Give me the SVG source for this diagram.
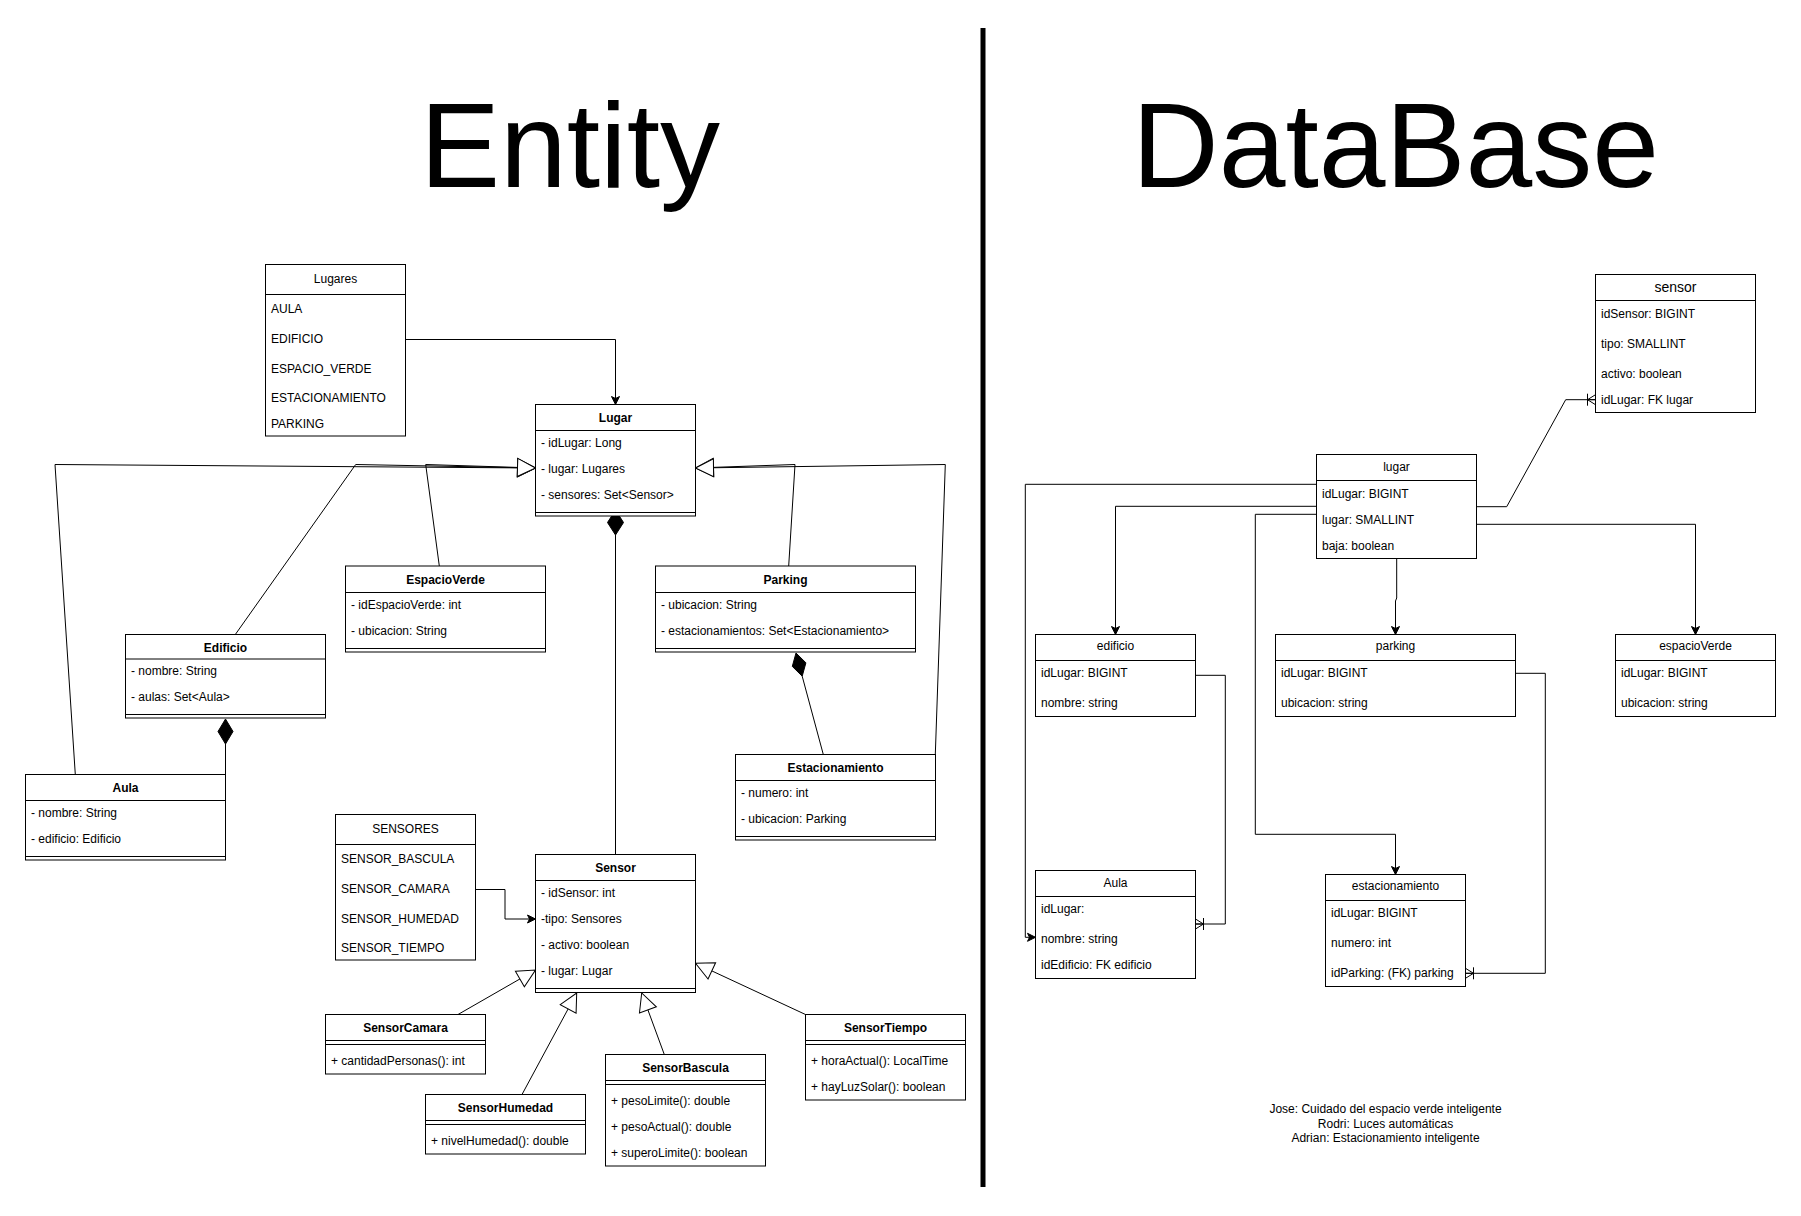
<svg xmlns="http://www.w3.org/2000/svg" width="1801" height="1216" viewBox="0 0 1801 1216">
<style>
.box{fill:#fff;stroke:#000;stroke-width:1}
.sep{stroke:#000;stroke-width:1;fill:none}
.ln{fill:none;stroke:#000;stroke-width:1}
.t{font-family:"Liberation Sans",Arial,Helvetica,sans-serif;font-size:12px;fill:#000}
.h{font-weight:bold;text-anchor:middle}
.hn{text-anchor:middle}
.title{font-family:"Liberation Sans",Arial,Helvetica,sans-serif;font-size:120px;fill:#000}
</style>
<defs>
<marker id="gen" markerUnits="userSpaceOnUse" markerWidth="20" markerHeight="20" refX="18" refY="9" orient="auto" overflow="visible">
<path d="M0,0 L18,9 L0,18 Z" fill="#fff" stroke="#000" stroke-width="1"/>
</marker>
<marker id="arr" markerUnits="userSpaceOnUse" markerWidth="10" markerHeight="10" refX="8" refY="4" orient="auto" overflow="visible">
<path d="M0,0 L8,4 L0,8 L2,4 Z" fill="#000" stroke="#000" stroke-width="1"/>
</marker>
<marker id="many" markerUnits="userSpaceOnUse" markerWidth="12" markerHeight="12" refX="10" refY="6" orient="auto" overflow="visible">
<path d="M2,0 V12 M2,6 L10,1 M2,6 L10,11 M2,6 H10" fill="none" stroke="#000" stroke-width="1"/>
</marker>
</defs>
<rect width="1801" height="1216" fill="#fff"/>

<text class="title" x="420" y="187">Entity</text>
<text class="title" x="1132" y="187">DataBase</text>
<line x1="983" y1="28" x2="983" y2="1187" stroke="#000" stroke-width="5"/>

<g id="connectors">
<path class="ln" d="M405.5,339.5 H615.5 V404.5" marker-end="url(#arr)"/>
<path class="ln" d="M75.3,774.5 L55,464.5 L535.5,468" marker-end="url(#gen)"/>
<path class="ln" d="M235.3,634.5 L355.7,464.5 L535.5,468" marker-end="url(#gen)"/>
<path class="ln" d="M439.3,566 L425.7,464.5 L535.5,468" marker-end="url(#gen)"/>
<path class="ln" d="M788.7,566 L795,464.5 L695.5,468" marker-end="url(#gen)"/>
<path class="ln" d="M935.3,754.5 L945.3,464.5 L695.5,468" marker-end="url(#gen)"/>
<path class="ln" d="M615.5,535 V854.5"/>
<polygon points="615.5,510 623.5,522.5 615.5,535 607.5,522.5" fill="#000" stroke="#000"/>
<path class="ln" d="M225.5,744 V774.5"/>
<polygon points="225.5,719 233,731.5 225.5,744 218,731.5" fill="#000" stroke="#000"/>
<path class="ln" d="M802.2,676.2 L823.3,754.5"/>
<polygon points="796,653 805.9,662.8 802.2,676.2 792.3,666.4" fill="#000" stroke="#000"/>
<path class="ln" d="M475.5,889.5 H505 V919 H535.5" marker-end="url(#arr)"/>
<path class="ln" d="M458,1014.5 L535.5,970" marker-end="url(#gen)"/>
<path class="ln" d="M522,1094.5 L576.7,993" marker-end="url(#gen)"/>
<path class="ln" d="M664.3,1054.5 L641.7,993" marker-end="url(#gen)"/>
<path class="ln" d="M805.5,1014.5 L695.5,963.3" marker-end="url(#gen)"/>

<path class="ln" d="M1476.5,506.7 H1506.7 L1565.7,399.7 H1595.5" marker-end="url(#many)"/>
<path class="ln" d="M1476.5,524.3 H1695.5 V634.5" marker-end="url(#arr)"/>
<path class="ln" d="M1316.5,506.3 H1115.5 V634.5" marker-end="url(#arr)"/>
<path class="ln" d="M1316.5,484.3 H1025.3 V937.3 H1035.5" marker-end="url(#arr)"/>
<path class="ln" d="M1316.5,514.3 H1255.3 V834.3 H1395.5 V874.5" marker-end="url(#arr)"/>
<path class="ln" d="M1396.7,558.5 V598 L1395.5,601 V634.5" marker-end="url(#arr)"/>
<path class="ln" d="M1515.5,673.3 H1545.3 V973.3 H1465.5" marker-end="url(#many)"/>
<path class="ln" d="M1195.5,675.3 H1225.3 V924 H1195.5" marker-end="url(#many)"/>
</g>

<g id="Lugares">
<rect class="box" x="265.5" y="264.5" width="140" height="171.5"/>
<line class="sep" x1="265.5" y1="294.5" x2="405.5" y2="294.5"/>
<text class="t hn" x="335.5" y="283">Lugares</text>
<text class="t" x="271" y="313.3">AULA</text>
<text class="t" x="271" y="343.3">EDIFICIO</text>
<text class="t" x="271" y="373.3">ESPACIO_VERDE</text>
<text class="t" x="271" y="402">ESTACIONAMIENTO</text>
<text class="t" x="271" y="427.7">PARKING</text>
</g>

<g id="Lugar">
<rect class="box" x="535.5" y="404.5" width="160" height="111.5"/>
<line class="sep" x1="535.5" y1="430.5" x2="695.5" y2="430.5"/>
<line class="sep" x1="535.5" y1="512.5" x2="695.5" y2="512.5"/>
<text class="t h" x="615.5" y="422">Lugar</text>
<text class="t" x="541" y="447.3">- idLugar: Long</text>
<text class="t" x="541" y="473.3">- lugar: Lugares</text>
<text class="t" x="541" y="499.3">- sensores: Set&lt;Sensor&gt;</text>
</g>

<g id="EspacioVerde">
<rect class="box" x="345.5" y="566" width="200" height="86"/>
<line class="sep" x1="345.5" y1="592.5" x2="545.5" y2="592.5"/>
<line class="sep" x1="345.5" y1="648.5" x2="545.5" y2="648.5"/>
<text class="t h" x="445.5" y="583.5">EspacioVerde</text>
<text class="t" x="351" y="609.3">- idEspacioVerde: int</text>
<text class="t" x="351" y="635">- ubicacion: String</text>
</g>

<g id="Edificio">
<rect class="box" x="125.5" y="634.5" width="200" height="83.5"/>
<line class="sep" x1="125.5" y1="659" x2="325.5" y2="659"/>
<line class="sep" x1="125.5" y1="714.5" x2="325.5" y2="714.5"/>
<text class="t h" x="225.5" y="651.7">Edificio</text>
<text class="t" x="131" y="675">- nombre: String</text>
<text class="t" x="131" y="700.7">- aulas: Set&lt;Aula&gt;</text>
</g>

<g id="Aula">
<rect class="box" x="25.5" y="774.5" width="200" height="85.5"/>
<line class="sep" x1="25.5" y1="800.5" x2="225.5" y2="800.5"/>
<line class="sep" x1="25.5" y1="856.5" x2="225.5" y2="856.5"/>
<text class="t h" x="125.5" y="791.7">Aula</text>
<text class="t" x="31" y="817.3">- nombre: String</text>
<text class="t" x="31" y="843.3">- edificio: Edificio</text>
</g>

<g id="Parking">
<rect class="box" x="655.5" y="566" width="260" height="86"/>
<line class="sep" x1="655.5" y1="592.5" x2="915.5" y2="592.5"/>
<line class="sep" x1="655.5" y1="648.5" x2="915.5" y2="648.5"/>
<text class="t h" x="785.5" y="583.5">Parking</text>
<text class="t" x="661" y="609.3">- ubicacion: String</text>
<text class="t" x="661" y="635.3">- estacionamientos: Set&lt;Estacionamiento&gt;</text>
</g>

<g id="Estacionamiento">
<rect class="box" x="735.5" y="754.5" width="200" height="85.5"/>
<line class="sep" x1="735.5" y1="780.5" x2="935.5" y2="780.5"/>
<line class="sep" x1="735.5" y1="836.5" x2="935.5" y2="836.5"/>
<text class="t h" x="835.5" y="771.7">Estacionamiento</text>
<text class="t" x="741" y="797.3">- numero: int</text>
<text class="t" x="741" y="823.3">- ubicacion: Parking</text>
</g>

<g id="SENSORES">
<rect class="box" x="335.5" y="814.5" width="140" height="145.5"/>
<line class="sep" x1="335.5" y1="844.5" x2="475.5" y2="844.5"/>
<text class="t hn" x="405.5" y="832.5">SENSORES</text>
<text class="t" x="341" y="863.3">SENSOR_BASCULA</text>
<text class="t" x="341" y="893.3">SENSOR_CAMARA</text>
<text class="t" x="341" y="923.3">SENSOR_HUMEDAD</text>
<text class="t" x="341" y="951.7">SENSOR_TIEMPO</text>
</g>

<g id="Sensor">
<rect class="box" x="535.5" y="854.5" width="160" height="138"/>
<line class="sep" x1="535.5" y1="880.5" x2="695.5" y2="880.5"/>
<line class="sep" x1="535.5" y1="988.5" x2="695.5" y2="988.5"/>
<text class="t h" x="615.5" y="871.7">Sensor</text>
<text class="t" x="541" y="897.3">- idSensor: int</text>
<text class="t" x="541" y="923.3">-tipo: Sensores</text>
<text class="t" x="541" y="949.3">- activo: boolean</text>
<text class="t" x="541" y="975.3">- lugar: Lugar</text>
</g>

<g id="SensorCamara">
<rect class="box" x="325.5" y="1014.5" width="160" height="59.5"/>
<line class="sep" x1="325.5" y1="1040.5" x2="485.5" y2="1040.5"/>
<line class="sep" x1="325.5" y1="1044.5" x2="485.5" y2="1044.5"/>
<text class="t h" x="405.5" y="1031.7">SensorCamara</text>
<text class="t" x="331" y="1065">+ cantidadPersonas(): int</text>
</g>

<g id="SensorHumedad">
<rect class="box" x="425.5" y="1094.5" width="160" height="59.5"/>
<line class="sep" x1="425.5" y1="1120.5" x2="585.5" y2="1120.5"/>
<line class="sep" x1="425.5" y1="1124.5" x2="585.5" y2="1124.5"/>
<text class="t h" x="505.5" y="1111.7">SensorHumedad</text>
<text class="t" x="431" y="1145">+ nivelHumedad(): double</text>
</g>

<g id="SensorBascula">
<rect class="box" x="605.5" y="1054.5" width="160" height="111.5"/>
<line class="sep" x1="605.5" y1="1080.5" x2="765.5" y2="1080.5"/>
<line class="sep" x1="605.5" y1="1084.5" x2="765.5" y2="1084.5"/>
<text class="t h" x="685.5" y="1071.7">SensorBascula</text>
<text class="t" x="611" y="1105">+ pesoLimite(): double</text>
<text class="t" x="611" y="1131">+ pesoActual(): double</text>
<text class="t" x="611" y="1156.7">+ superoLimite(): boolean</text>
</g>

<g id="SensorTiempo">
<rect class="box" x="805.5" y="1014.5" width="160" height="85.5"/>
<line class="sep" x1="805.5" y1="1040.5" x2="965.5" y2="1040.5"/>
<line class="sep" x1="805.5" y1="1044.5" x2="965.5" y2="1044.5"/>
<text class="t h" x="885.5" y="1031.7">SensorTiempo</text>
<text class="t" x="811" y="1065">+ horaActual(): LocalTime</text>
<text class="t" x="811" y="1091">+ hayLuzSolar(): boolean</text>
</g>

<g id="db-sensor">
<rect class="box" x="1595.5" y="274.5" width="160" height="138"/>
<line class="sep" x1="1595.5" y1="300.5" x2="1755.5" y2="300.5"/>
<text class="t hn" x="1675.5" y="292.3" style="font-size:14px">sensor</text>
<text class="t" x="1601" y="317.7">idSensor: BIGINT</text>
<text class="t" x="1601" y="347.7">tipo: SMALLINT</text>
<text class="t" x="1601" y="377.7">activo: boolean</text>
<text class="t" x="1601" y="404">idLugar: FK lugar</text>
</g>

<g id="db-lugar">
<rect class="box" x="1316.5" y="454.5" width="160" height="104"/>
<line class="sep" x1="1316.5" y1="480.5" x2="1476.5" y2="480.5"/>
<text class="t hn" x="1396.5" y="470.7">lugar</text>
<text class="t" x="1322" y="497.7">idLugar: BIGINT</text>
<text class="t" x="1322" y="523.7">lugar: SMALLINT</text>
<text class="t" x="1322" y="549.7">baja: boolean</text>
</g>

<g id="db-edificio">
<rect class="box" x="1035.5" y="634.5" width="160" height="82"/>
<line class="sep" x1="1035.5" y1="660.5" x2="1195.5" y2="660.5"/>
<text class="t hn" x="1115.5" y="650">edificio</text>
<text class="t" x="1041" y="677.3">idLugar: BIGINT</text>
<text class="t" x="1041" y="707.3">nombre: string</text>
</g>

<g id="db-parking">
<rect class="box" x="1275.5" y="634.5" width="240" height="82"/>
<line class="sep" x1="1275.5" y1="660.5" x2="1515.5" y2="660.5"/>
<text class="t hn" x="1395.5" y="650">parking</text>
<text class="t" x="1281" y="677.3">idLugar: BIGINT</text>
<text class="t" x="1281" y="707.3">ubicacion: string</text>
</g>

<g id="db-espacioVerde">
<rect class="box" x="1615.5" y="634.5" width="160" height="82"/>
<line class="sep" x1="1615.5" y1="660.5" x2="1775.5" y2="660.5"/>
<text class="t hn" x="1695.5" y="650">espacioVerde</text>
<text class="t" x="1621" y="677.3">idLugar: BIGINT</text>
<text class="t" x="1621" y="707.3">ubicacion: string</text>
</g>

<g id="db-Aula">
<rect class="box" x="1035.5" y="870.5" width="160" height="108"/>
<line class="sep" x1="1035.5" y1="896.5" x2="1195.5" y2="896.5"/>
<text class="t hn" x="1115.5" y="886.7">Aula</text>
<text class="t" x="1041" y="913.3">idLugar:</text>
<text class="t" x="1041" y="943.3">nombre: string</text>
<text class="t" x="1041" y="969.3">idEdificio: FK edificio</text>
</g>

<g id="db-estacionamiento">
<rect class="box" x="1325.5" y="874.5" width="140" height="112"/>
<line class="sep" x1="1325.5" y1="900.5" x2="1465.5" y2="900.5"/>
<text class="t hn" x="1395.5" y="890">estacionamiento</text>
<text class="t" x="1331" y="917.3">idLugar: BIGINT</text>
<text class="t" x="1331" y="947.3">numero: int</text>
<text class="t" x="1331" y="977.3">idParking: (FK) parking</text>
</g>

<g id="notes">
<text class="t hn" x="1385.5" y="1113.3">Jose: Cuidado del espacio verde inteligente</text>
<text class="t hn" x="1385.5" y="1127.7">Rodri: Luces automáticas</text>
<text class="t hn" x="1385.5" y="1142.3">Adrian: Estacionamiento inteligente</text>
</g>
</svg>
